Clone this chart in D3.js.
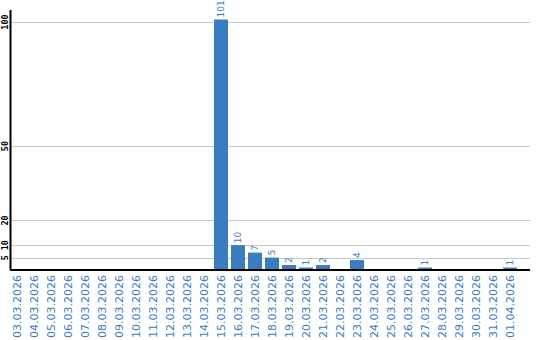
<!DOCTYPE html>
<html><head><meta charset="utf-8">
<script src="https://cdn.jsdelivr.net/npm/d3@7"></script>
<style>body{margin:0;background:#fff}svg{display:block}</style>
</head><body>
<script>
const dates = ["03.03.2026","04.03.2026","05.03.2026","06.03.2026","07.03.2026","08.03.2026","09.03.2026","10.03.2026","11.03.2026","12.03.2026","13.03.2026","14.03.2026","15.03.2026","16.03.2026","17.03.2026","18.03.2026","19.03.2026","20.03.2026","21.03.2026","22.03.2026","23.03.2026","24.03.2026","25.03.2026","26.03.2026","27.03.2026","28.03.2026","29.03.2026","30.03.2026","31.03.2026","01.04.2026"];
const values = [0,0,0,0,0,0,0,0,0,0,0,0,101,10,7,5,2,1,2,0,4,0,0,0,1,0,0,0,0,1];
const yTicks = [5,10,20,50,100];

const W = 540, H = 340;
const svg = d3.select("body").append("svg").attr("width", W).attr("height", H);
const left = 10, right = 530, base = 270;
const blue = "#3a7cc2";

const x = d3.scaleBand().domain(dates).range([left, 517]).paddingInner(3/17).paddingOuter(0);
const y = d3.scaleLinear().domain([0, 100]).range([base, 22]);

// grid
svg.append("g").selectAll("line").data(yTicks).join("line")
  .attr("x1", left).attr("x2", right)
  .attr("y1", d => Math.round(y(d)) + 0.5).attr("y2", d => Math.round(y(d)) + 0.5)
  .attr("stroke", "#c8c8c8").attr("stroke-width", 1);

// y tick labels
svg.append("g").selectAll("text").data(yTicks).join("text")
  .attr("transform", d => `translate(5.5,${y(d)}) rotate(-90)`)
  .attr("text-anchor", "middle").attr("dy", "0.35em")
  .attr("font-family", "DejaVu Sans Mono").attr("font-weight", "bold").attr("font-size", 8.5)
  .attr("fill", "#000").text(d => d);

// bars
const data = dates.map((d, i) => ({d, v: values[i]}));
svg.append("g").selectAll("rect").data(data.filter(e => e.v > 0)).join("rect")
  .attr("x", e => x(e.d)).attr("width", x.bandwidth())
  .attr("y", e => y(e.v)).attr("height", e => base - y(e.v))
  .attr("fill", blue);

// value labels
svg.append("g").selectAll("text").data(data.filter(e => e.v > 0)).join("text")
  .attr("transform", e => `translate(${x(e.d) + x.bandwidth()/2},${y(e.v) - 2}) rotate(-90)`)
  .attr("text-anchor", "start").attr("dy", "0.35em")
  .attr("font-family", "DejaVu Sans").attr("font-size", 9)
  .attr("fill", blue).text(e => e.v);

// axes lines
svg.append("line").attr("x1", left).attr("x2", right).attr("y1", base).attr("y2", base)
  .attr("stroke", "#000").attr("stroke-width", 2);
svg.append("line").attr("x1", left + 0.5).attr("x2", left + 0.5).attr("y1", 10).attr("y2", base)
  .attr("stroke", "#000").attr("stroke-width", 2);

// date labels
svg.append("g").selectAll("text").data(dates).join("text")
  .attr("transform", d => `translate(${x(d) + x.bandwidth()/2},275) rotate(-90)`)
  .attr("text-anchor", "end").attr("dy", "0.35em")
  .attr("font-family", "DejaVu Sans").attr("font-size", 11)
  .attr("fill", blue).text(d => d);
</script>
</body></html>
